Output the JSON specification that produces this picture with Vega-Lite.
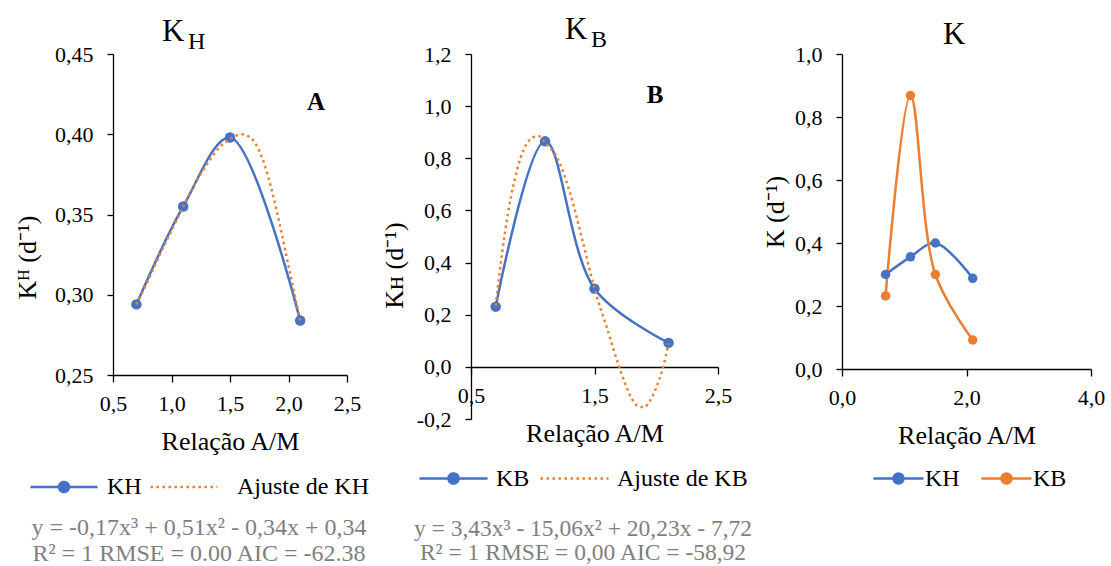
{
  "$schema": "https://vega.github.io/schema/vega-lite/v6.json",
  "padding": {"left": 14, "top": 14, "right": 5, "bottom": 5},
  "background": "white",
  "config": {
    "locale": {"number": {"decimal": ",", "thousands": ".", "grouping": [3], "currency": ["", ""], "minus": "-"}},
    "view": {"stroke": null},
    "font": "Liberation Serif",
    "style": {"guide-label": {"font": "Liberation Serif"}, "guide-title": {"font": "Liberation Serif"}},
    "axis": {"grid": false, "domainColor": "#000", "tickColor": "#000", "labelColor": "#000", "titleColor": "#000", "labelFont": "Liberation Serif", "titleFont": "Liberation Serif", "labelFontSize": 22, "titleFontSize": 26, "titleFontWeight": "normal", "domainWidth": 1.3, "tickWidth": 1.3, "labelFlush": false, "labelOverlap": false},
    "axisX": {"tickSize": 7, "labelPadding": 11, "titlePadding": 14},
    "axisY": {"tickSize": 6, "labelPadding": 14},
    "legend": {"labelFont": "Liberation Serif", "labelFontSize": 24, "labelColor": "#000", "titleFont": "Liberation Serif", "padding": 0, "titleLimit": 600, "labelLimit": 400, "gridAlign": "none"}
  },
  "datasets": {
    "kh": [
      {"x": 0.7, "y": 0.294, "s": "KH"},
      {"x": 1.1, "y": 0.355, "s": "KH"},
      {"x": 1.5, "y": 0.398, "s": "KH"},
      {"x": 2.1, "y": 0.284, "s": "KH"}
    ],
    "fitA": [
      {"x": 0.7, "y": 0.294, "s": "Ajuste de KH"},
      {"x": 0.8, "y": 0.309, "s": "Ajuste de KH"},
      {"x": 0.9, "y": 0.325, "s": "Ajuste de KH"},
      {"x": 1.0, "y": 0.340, "s": "Ajuste de KH"},
      {"x": 1.1, "y": 0.355, "s": "Ajuste de KH"},
      {"x": 1.2, "y": 0.369, "s": "Ajuste de KH"},
      {"x": 1.3, "y": 0.381, "s": "Ajuste de KH"},
      {"x": 1.4, "y": 0.391, "s": "Ajuste de KH"},
      {"x": 1.5, "y": 0.397, "s": "Ajuste de KH"},
      {"x": 1.6, "y": 0.400, "s": "Ajuste de KH"},
      {"x": 1.7, "y": 0.396, "s": "Ajuste de KH"},
      {"x": 1.8, "y": 0.380, "s": "Ajuste de KH"},
      {"x": 1.9, "y": 0.352, "s": "Ajuste de KH"},
      {"x": 2.0, "y": 0.318, "s": "Ajuste de KH"},
      {"x": 2.1, "y": 0.284, "s": "Ajuste de KH"}
    ],
    "kb": [
      {"x": 0.7, "y": 0.231, "s": "KB"},
      {"x": 1.1, "y": 0.865, "s": "KB"},
      {"x": 1.5, "y": 0.300, "s": "KB"},
      {"x": 2.1, "y": 0.092, "s": "KB"}
    ],
    "fitB": [
      {"x": 0.7, "y": 0.235, "s": "Ajuste de KB"},
      {"x": 0.75, "y": 0.43, "s": "Ajuste de KB"},
      {"x": 0.8, "y": 0.59, "s": "Ajuste de KB"},
      {"x": 0.85, "y": 0.71, "s": "Ajuste de KB"},
      {"x": 0.9, "y": 0.80, "s": "Ajuste de KB"},
      {"x": 0.95, "y": 0.855, "s": "Ajuste de KB"},
      {"x": 1.0, "y": 0.88, "s": "Ajuste de KB"},
      {"x": 1.05, "y": 0.885, "s": "Ajuste de KB"},
      {"x": 1.1, "y": 0.86, "s": "Ajuste de KB"},
      {"x": 1.2, "y": 0.80, "s": "Ajuste de KB"},
      {"x": 1.3, "y": 0.67, "s": "Ajuste de KB"},
      {"x": 1.4, "y": 0.49, "s": "Ajuste de KB"},
      {"x": 1.5, "y": 0.30, "s": "Ajuste de KB"},
      {"x": 1.6, "y": 0.15, "s": "Ajuste de KB"},
      {"x": 1.7, "y": 0.0, "s": "Ajuste de KB"},
      {"x": 1.8, "y": -0.12, "s": "Ajuste de KB"},
      {"x": 1.85, "y": -0.15, "s": "Ajuste de KB"},
      {"x": 1.9, "y": -0.155, "s": "Ajuste de KB"},
      {"x": 1.95, "y": -0.13, "s": "Ajuste de KB"},
      {"x": 2.0, "y": -0.08, "s": "Ajuste de KB"},
      {"x": 2.05, "y": -0.01, "s": "Ajuste de KB"},
      {"x": 2.1, "y": 0.09, "s": "Ajuste de KB"}
    ],
    "k": [
      {"x": 0.7, "y": 0.300, "s": "KH"},
      {"x": 1.1, "y": 0.356, "s": "KH"},
      {"x": 1.5, "y": 0.400, "s": "KH"},
      {"x": 2.1, "y": 0.288, "s": "KH"},
      {"x": 0.7, "y": 0.232, "s": "KB"},
      {"x": 1.1, "y": 0.868, "s": "KB"},
      {"x": 1.5, "y": 0.300, "s": "KB"},
      {"x": 2.1, "y": 0.092, "s": "KB"}
    ]
  },
  "spacing": 124,
  "bounds": "flush",
  "resolve": {"scale": {"color": "independent", "x": "independent", "y": "independent"}, "legend": {"color": "independent"}},
  "hconcat": [
    {
      "width": 234,
      "height": 321,
      "layer": [
        {
          "data": {"name": "kh"},
          "mark": {"type": "line", "strokeWidth": 2.5, "interpolate": "catmull-rom"},
          "encoding": {
            "x": {"field": "x", "type": "quantitative", "scale": {"domain": [0.5, 2.5], "nice": false, "zero": false}, "axis": {"values": [0.5, 1, 1.5, 2, 2.5], "format": ".1f", "title": "Relação A/M", "labelFont": "Liberation Serif", "titleFont": "Liberation Serif"}},
            "y": {"field": "y", "type": "quantitative", "scale": {"domain": [0.25, 0.45], "nice": false, "zero": false}, "axis": {"values": [0.25, 0.3, 0.35, 0.4, 0.45], "format": ".2f", "title": "Kᴴ (d⁻¹)", "titlePadding": 14, "titleY": 203, "labelFont": "Liberation Serif", "titleFont": "Liberation Serif"}},
            "color": {"field": "s", "type": "nominal", "scale": {"domain": ["KH", "Ajuste de KH"], "range": ["#4472C4", "#ED7D31"]},
              "legend": {"orient": "none", "legendX": -84, "legendY": 398, "direction": "horizontal",
                "title": ["y = -0,17x³ + 0,51x² - 0,34x + 0,34", "R² = 1 RMSE = 0.00 AIC = -62.38"],
                "titleOrient": "bottom", "titleAnchor": "middle", "titleAlign": "center", "titleColor": "#7F7F7F", "titleFont": "Liberation Serif", "titleFontSize": 24, "titleFontWeight": "normal", "titleLineHeight": 26, "titlePadding": 17,
                "labelFont": "Liberation Serif",
                "symbolSize": 4489, "symbolStrokeWidth": 2.5, "labelOffset": 8, "columnPadding": 3,
                "encode": {
                  "labels": {"update": {"dx": {"signal": "datum.value === 'KH' ? 0 : 10"}}},
                  "symbols": {"update": {
                  "shape": {"signal": "datum.value === 'KH' ? 'M-1,0H1M-0.15,0A0.15,0.15 0 1,0 0.15,0A0.15,0.15 0 1,0 -0.15,0Z' : 'stroke'"},
                  "fill": {"signal": "datum.value === 'KH' ? '#4472C4' : 'transparent'"},
                  "stroke": {"signal": "datum.value === 'KH' ? '#4472C4' : '#ED7D31'"},
                  "strokeDash": {"signal": "datum.value === 'KH' ? [1, 0] : [2.5, 3.5]"},
                  "strokeWidth": {"value": 2.5},
                  "opacity": {"value": 1}
                }}}
              }}
          }
        },
        {
          "data": {"name": "kh"},
          "mark": {"type": "point", "filled": true, "size": 110, "opacity": 1},
          "encoding": {
            "x": {"field": "x", "type": "quantitative"},
            "y": {"field": "y", "type": "quantitative"},
            "color": {"field": "s", "type": "nominal"}
          }
        },
        {
          "data": {"name": "fitA"},
          "mark": {"type": "line", "strokeWidth": 2.5, "strokeDash": [2.5, 3.5], "interpolate": "monotone"},
          "encoding": {
            "x": {"field": "x", "type": "quantitative"},
            "y": {"field": "y", "type": "quantitative"},
            "color": {"field": "s", "type": "nominal"}
          }
        },
        {
          "data": {"values": [{}]},
          "mark": {"type": "text", "text": "A", "fontSize": 25, "fontWeight": "bold", "font": "Liberation Serif", "color": "#000"},
          "encoding": {"x": {"datum": 2.235}, "y": {"datum": 0.42}}
        },
        {
          "data": {"values": [{}]},
          "mark": {"type": "text", "text": "K", "fontSize": 31, "font": "Liberation Serif", "color": "#000", "align": "left", "baseline": "alphabetic"},
          "encoding": {"x": {"datum": 0.919}, "y": {"datum": 0.4581}}
        },
        {
          "data": {"values": [{}]},
          "mark": {"type": "text", "text": "H", "fontSize": 24, "font": "Liberation Serif", "color": "#000", "align": "left", "baseline": "alphabetic"},
          "encoding": {"x": {"datum": 1.141}, "y": {"datum": 0.4531}}
        }
      ]
    },
    {
      "width": 247,
      "height": 365,
      "layer": [
        {
          "data": {"name": "kb"},
          "mark": {"type": "line", "strokeWidth": 2.5, "interpolate": "catmull-rom"},
          "encoding": {
            "x": {"field": "x", "type": "quantitative", "scale": {"domain": [0.5, 2.5], "nice": false, "zero": false}, "axis": {"values": [0.5, 1.5, 2.5], "format": ".1f", "title": "Relação A/M", "offset": -52, "labelFont": "Liberation Serif", "titleFont": "Liberation Serif"}},
            "y": {"field": "y", "type": "quantitative", "scale": {"domain": [-0.2, 1.2], "nice": false, "zero": false}, "axis": {"values": [-0.2, 0, 0.2, 0.4, 0.6, 0.8, 1.0, 1.2], "format": ".1f", "title": "Kʜ (d⁻¹)", "titlePadding": 9, "titleY": 211, "labelFont": "Liberation Serif", "titleFont": "Liberation Serif"}},
            "color": {"field": "s", "type": "nominal", "scale": {"domain": ["KB", "Ajuste de KB"], "range": ["#4472C4", "#ED7D31"]},
              "legend": {"orient": "none", "legendX": -57, "legendY": 389, "direction": "horizontal",
                "title": ["y = 3,43x³ - 15,06x² + 20,23x - 7,72", "R² = 1 RMSE = 0,00 AIC = -58,92"],
                "titleOrient": "bottom", "titleAnchor": "middle", "titleAlign": "center", "titleColor": "#7F7F7F", "titleFont": "Liberation Serif", "titleFontSize": 23.5, "titleFontWeight": "normal", "titleLineHeight": 24, "titlePadding": 26,
                "labelFont": "Liberation Serif",
                "symbolSize": 4624, "symbolStrokeWidth": 2.5, "labelOffset": 7, "columnPadding": 5,
                "encode": {
                  "symbols": {"update": {
                  "shape": {"signal": "datum.value === 'KB' ? 'M-1,0H1M-0.15,0A0.15,0.15 0 1,0 0.15,0A0.15,0.15 0 1,0 -0.15,0Z' : 'stroke'"},
                  "fill": {"signal": "datum.value === 'KB' ? '#4472C4' : 'transparent'"},
                  "stroke": {"signal": "datum.value === 'KB' ? '#4472C4' : '#ED7D31'"},
                  "strokeDash": {"signal": "datum.value === 'KB' ? [1, 0] : [2.5, 3.5]"},
                  "strokeWidth": {"value": 2.5},
                  "opacity": {"value": 1}
                }}}
              }}
          }
        },
        {
          "data": {"name": "kb"},
          "mark": {"type": "point", "filled": true, "size": 110, "opacity": 1},
          "encoding": {
            "x": {"field": "x", "type": "quantitative"},
            "y": {"field": "y", "type": "quantitative"},
            "color": {"field": "s", "type": "nominal"}
          }
        },
        {
          "data": {"name": "fitB"},
          "mark": {"type": "line", "strokeWidth": 2.5, "strokeDash": [2.5, 3.5], "interpolate": "monotone"},
          "encoding": {
            "x": {"field": "x", "type": "quantitative"},
            "y": {"field": "y", "type": "quantitative"},
            "color": {"field": "s", "type": "nominal"}
          }
        },
        {
          "data": {"values": [{}]},
          "mark": {"type": "text", "text": "B", "fontSize": 25, "fontWeight": "bold", "font": "Liberation Serif", "color": "#000"},
          "encoding": {"x": {"datum": 1.99}, "y": {"datum": 1.042}}
        },
        {
          "data": {"values": [{}]},
          "mark": {"type": "text", "text": "K", "fontSize": 31, "font": "Liberation Serif", "color": "#000", "align": "left", "baseline": "alphabetic"},
          "encoding": {"x": {"datum": 1.261}, "y": {"datum": 1.2575}}
        },
        {
          "data": {"values": [{}]},
          "mark": {"type": "text", "text": "B", "fontSize": 24, "font": "Liberation Serif", "color": "#000", "align": "left", "baseline": "alphabetic"},
          "encoding": {"x": {"datum": 1.472}, "y": {"datum": 1.2269}}
        }
      ]
    },
    {
      "width": 249,
      "height": 315,
      "layer": [
        {
          "data": {"name": "k"},
          "mark": {"type": "line", "strokeWidth": 2.5, "interpolate": "catmull-rom"},
          "encoding": {
            "x": {"field": "x", "type": "quantitative", "scale": {"domain": [0, 4], "nice": false, "zero": false}, "axis": {"values": [0, 2, 4], "format": ".1f", "title": "Relação A/M", "labelFont": "Liberation Serif", "titleFont": "Liberation Serif"}},
            "y": {"field": "y", "type": "quantitative", "scale": {"domain": [0, 1], "nice": false}, "axis": {"values": [0, 0.2, 0.4, 0.6, 0.8, 1.0], "format": ".1f", "title": "K (d⁻¹)", "titlePadding": 6, "labelFont": "Liberation Serif", "titleFont": "Liberation Serif"}},
            "color": {"field": "s", "type": "nominal", "scale": {"domain": ["KH", "KB"], "range": ["#4472C4", "#ED7D31"]},
              "legend": {"orient": "none", "legendX": 30, "legendY": 398, "direction": "horizontal", "title": null,
                "labelFont": "Liberation Serif",
                "symbolSize": 2500, "symbolStrokeWidth": 2.5, "labelOffset": 0, "columnPadding": 16,
                "symbolType": "M-1,0H1M-0.2,0A0.2,0.2 0 1,0 0.2,0A0.2,0.2 0 1,0 -0.2,0Z",
                "encode": {
                  "symbols": {"update": {
                  "fill": {"signal": "datum.value === 'KH' ? '#4472C4' : '#ED7D31'"},
                  "stroke": {"signal": "datum.value === 'KH' ? '#4472C4' : '#ED7D31'"},
                  "strokeWidth": {"value": 2.5},
                  "opacity": {"value": 1}
                }}}
              }}
          }
        },
        {
          "data": {"name": "k"},
          "mark": {"type": "point", "filled": true, "size": 90, "opacity": 1},
          "encoding": {
            "x": {"field": "x", "type": "quantitative"},
            "y": {"field": "y", "type": "quantitative"},
            "color": {"field": "s", "type": "nominal"}
          }
        },
        {
          "data": {"values": [{}]},
          "mark": {"type": "text", "text": "K", "fontSize": 31, "font": "Liberation Serif", "color": "#000", "align": "left", "baseline": "alphabetic"},
          "encoding": {"x": {"datum": 1.622}, "y": {"datum": 1.0318}}
        }
      ]
    }
  ]
}
